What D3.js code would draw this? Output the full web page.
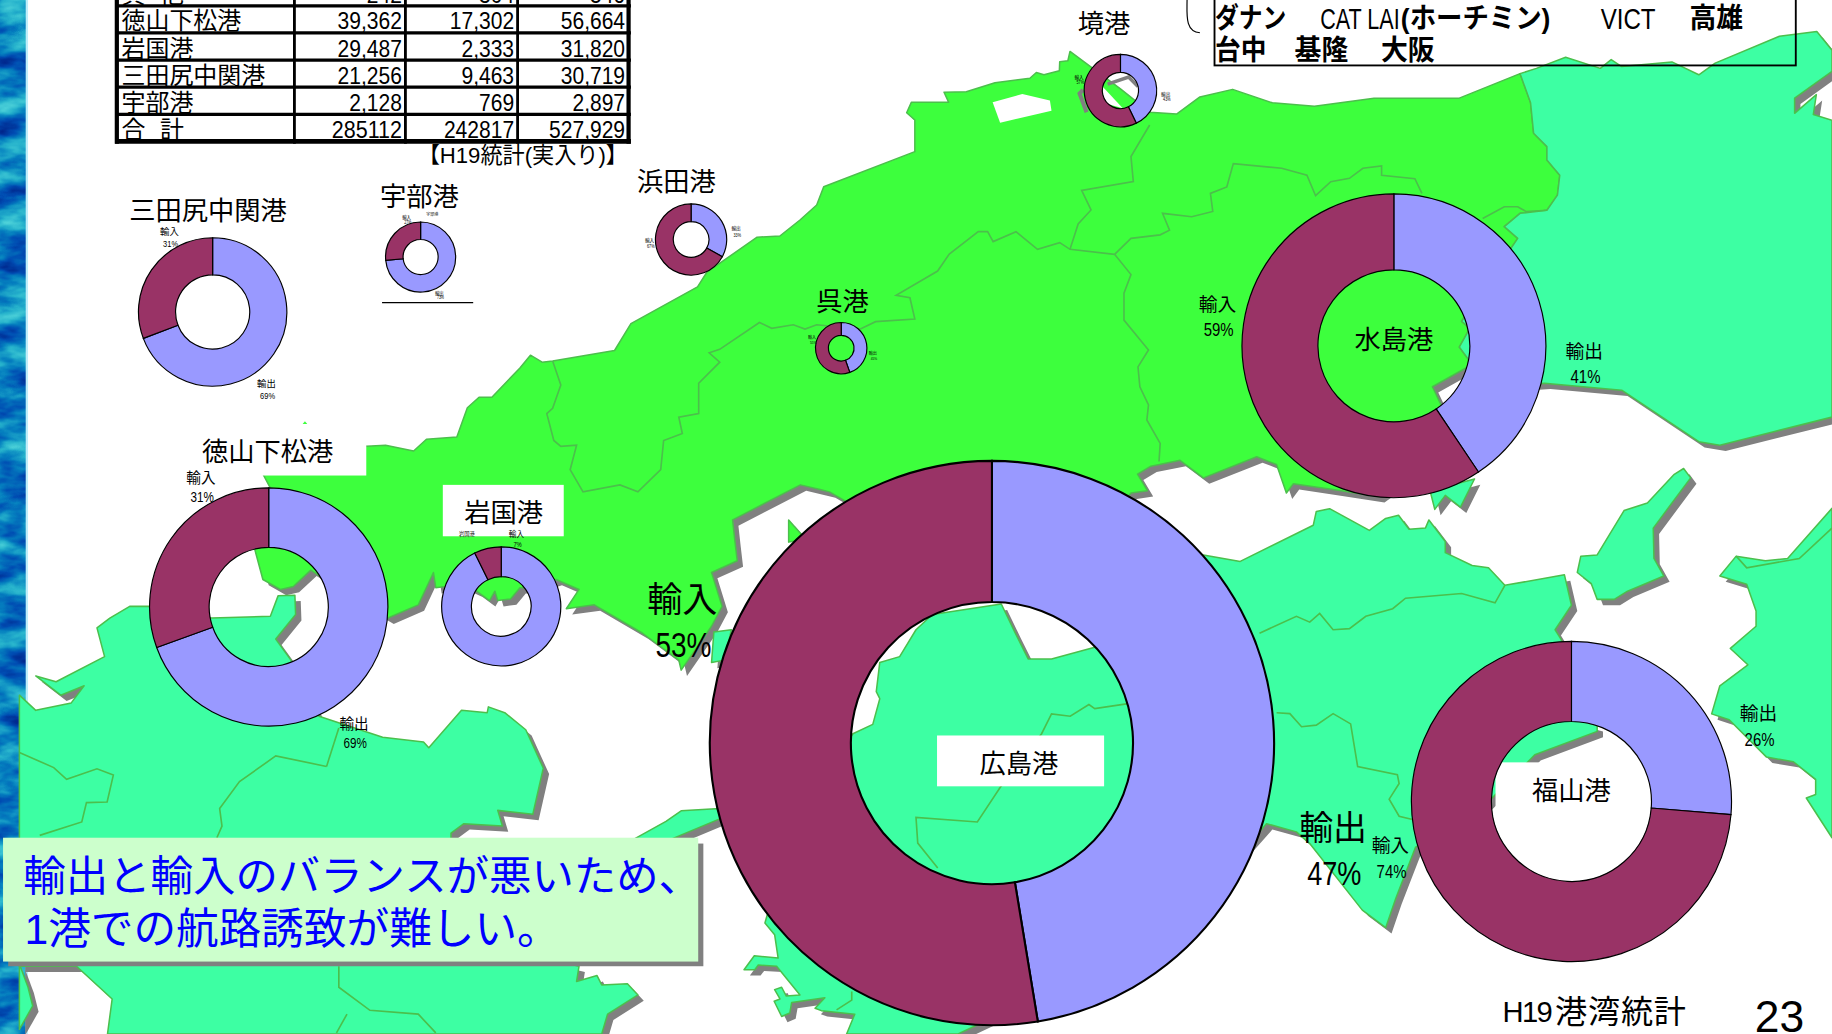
<!DOCTYPE html>
<html><head><meta charset="utf-8">
<script src="https://cdn.jsdelivr.net/npm/d3@7/dist/d3.min.js"></script>
<style>html,body{margin:0;padding:0;background:#fff;overflow:hidden}svg{display:block}
text{font-family:"Liberation Sans","Noto Sans CJK JP",sans-serif;fill:#000}</style>
</head><body><svg id="c"></svg>
<script>
// ---------- data ----------
const ports       = ["広島港","水島港","福山港","徳山下松港","岩国港","三田尻中関港","宇部港","浜田港","呉港","境港"];
const exportShare = [47.4,40.6,26.3,69.47,92.67,69.2,73.46,33,44.6,42.8];
const importShare = [52.6,59.4,73.7,30.53,7.33,30.8,26.54,67,55.4,57.2];
const seriesNames = ["輸出","輸入"];

const tableRows = ["其　他","徳山下松港","岩国港","三田尻中関港","宇部港","合　計"];
const tableCol1 = ["242","39,362","29,487","21,256","2,128","285112"];
const tableCol2 = ["304","17,302","2,333","9,463","769","242817"];
const tableCol3 = ["546","56,664","31,820","30,719","2,897","527,929"];

// ---------- layout ----------
const W=1568,H=885;
const svg=d3.select("#c").attr("width",1832).attr("height",1034).attr("viewBox",`0 0 ${W} ${H}`).attr("preserveAspectRatio","none");
const defs=svg.append("defs");
const f=defs.append("filter").attr("id","water").attr("x",0).attr("y",0).attr("width","100%").attr("height","100%").attr("color-interpolation-filters","sRGB");
f.append("feTurbulence").attr("type","fractalNoise").attr("baseFrequency","0.022 0.05").attr("numOctaves",4).attr("seed",11);
f.append("feColorMatrix").attr("type","matrix").attr("values","1 0 0 0 0 1 0 0 0 0 1 0 0 0 0 0 0 0 0 1");
const ct=f.append("feComponentTransfer");
ct.append("feFuncR").attr("type","table").attr("tableValues","0 0 0 0.02 0.15 0.3 0.5");
ct.append("feFuncG").attr("type","table").attr("tableValues","0.1 0.15 0.3 0.5 0.7 0.82 0.9");
ct.append("feFuncB").attr("type","table").attr("tableValues","0.45 0.55 0.7 0.75 0.8 0.85 0.9");

const BRIGHT="#3DFF3D", MINT="#3DFFA3", EDGE="#4CBF4C", SHADOW="#808080";
const lineGen=d3.line();
const closed=p=>lineGen(p)+"Z";

// ocean strip at the left
svg.append("rect").attr("x",0).attr("y",0).attr("width",22).attr("height",H).attr("filter","url(#water)");
svg.append("rect").attr("x",22).attr("y",0).attr("width",2).attr("height",H).attr("fill","#bfeefa");

// ---------- map shapes (background art) ----------
const brightLand=[[[313.5,382],[330,381],[354,386],[365,376],[391,374],[400,349],[410,340],[421,340],[445,315],[454,304],[464,310],[473,309],[526,300],[540,277],[597,245.5],[605,233],[648,203],[667.5,202],[684.7,188.3],[699,175.5],[705,159.8],[783,129.8],[783,102.7],[776,96.5],[780,87.6],[812,87.6],[808,79],[827,78.5],[851.6,70.8],[881.5,67],[887,62],[893.5,64],[906.7,60.5],[907,52.8],[914,52],[915.8,44],[959,76],[984,96],[1007,97.6],[1027,83],[1055,76.5],[1089,88],[1125,91],[1176,84],[1249,84],[1301,63],[1310,88],[1312.6,114],[1324,125.5],[1324,137],[1335,150],[1333,167],[1324,180],[1301,182.6],[1287.5,194],[1299,204],[1251,275],[1258,281],[1249,297],[1260,312],[1226,331],[1235,350],[1215,400],[1180,425],[1141,419],[1107,414],[1101,422],[1092.6,397.6],[1075.6,391],[1030,409],[1010,394],[985,399],[973.6,405.8],[982,420],[968,422],[900,500],[760,450],[710,421],[702,419],[685,415],[627,445],[629,463],[631,480],[609,490],[618,519],[609,536],[583,573.6],[581,565],[550,542],[508.7,517.7],[484.7,521],[495.6,504.5],[476,496],[455,503],[445,503],[437,512.7],[426,514],[423.6,506],[419,514],[408,506],[395,500],[373,503],[371,490],[358,517.7],[332,529],[300,510],[266,488],[251,502],[240,504.5],[225,496],[218,470],[231,417],[226,407.5],[220,395],[280,368]],
 [[675,445],[690,462],[675,464]]];
const mintLand=[
 // east
 [[1301,63],[1315,58.5],[1340,49],[1369.7,58.5],[1379,51],[1388,57],[1431,53],[1454,64],[1468,54],[1523,31],[1555,27],[1568,43],[1568,61],[1536,84],[1536,97],[1554.6,81],[1552,98],[1568,103],[1568,357],[1518,369.5],[1472,381],[1454,378],[1388,334],[1322,328],[1290,330],[1260,312],[1249,297],[1258,281],[1251,275],[1299,204],[1287.5,194],[1301,182.6],[1324,180],[1333,167],[1335,150],[1324,137],[1324,125.5],[1312.6,114],[1310,88]],
 // centre south
 [[857,517],[869,542],[880,564],[900,564],[937,554],[1000,520],[1030,475],[1061.5,480.5],[1124,449.6],[1126.6,437.7],[1138,435.4],[1172,454],[1186,443.7],[1197,441],[1206,453],[1220,452],[1223,445],[1237,463.4],[1237,473],[1260,484],[1274,486],[1288,501],[1339,492],[1345,518],[1331,539],[1336,547],[1356,600],[1356,618],[1367,621],[1367,626],[1313.6,646],[1300,660],[1270,690],[1211.6,725],[1194.6,769],[1186,794],[1166,779],[1121,722],[1109.6,712],[1084,705],[1000,800],[820,885],[724.6,885],[731.6,868],[703,865],[697.6,863],[706,854],[677.6,858],[676,867],[669,870],[662.6,857],[667.6,855],[663,847],[669,845],[673,852.5],[684.7,851.6],[664.7,827],[649,826],[646,830],[636.8,830],[645.6,818],[666,820],[663,800],[654.7,790],[680,700],[730,628],[747,620],[753,598],[750,592],[753,567],[770,562],[784,539],[798,526]],
 // west
 [[16.6,595],[30.6,608],[61,601.6],[72,587],[52,595],[30.6,578.5],[48,583.5],[89.5,562],[83,537.4],[94,529],[111,519],[131,519],[181,529],[231.4,527.5],[238,510],[252.4,509.4],[253,526],[236,547],[249,565],[273,613],[327.5,631],[362.5,635],[367,640],[395,608],[417,610],[418,605],[432,610],[450,624.6],[465,657.5],[456,697],[426,693.6],[430,707],[397,705],[386,713],[386,800],[495.6,827],[493.5,840],[511,835],[515,843],[537,842],[546,851.6],[520,868],[515,885],[92,885],[96,855],[65.5,827],[16.6,827]],
 [[16.6,825],[24,845],[28,861],[16.6,881]],
 // far east
 [[1568,435],[1530,478],[1511,480],[1486,476],[1472,493],[1495,500],[1503,523],[1503,536],[1481,555],[1496,569],[1472,587],[1465,611],[1480,616],[1512,648],[1535,652],[1554,667],[1554,680],[1546,683],[1568,717]],
 // islands
 [[1441,401],[1447,409],[1415,452],[1415.6,478],[1424,493],[1393,506],[1381.6,513],[1367,513],[1362,499.6],[1350,490],[1353,476],[1367,475],[1390,437],[1410,430.5],[1433,406]],
 [[543,718],[570,703],[583,694],[616,692],[618,700],[575,718]],
 [[611,541],[626,539],[620,565],[609,567]],
 [[1224,420],[1228,436],[1237,424],[1250,434],[1262,410]]
];
const borders=[
 [[473,309],[480,329.5],[473,349.5],[468,354],[474,377],[480,382],[493.5,381],[488,402],[499,421],[530.6,415],[546,421],[565.5,402],[568,377],[584,371],[581,357],[598,354],[598,328],[616,310],[607,302],[616,299],[650,276],[660.5,281],[679,278],[689,281.6],[699,278],[736,281.7],[749.4,275.3],[783,273],[778.8,254.8],[767,252.8],[802.5,232],[812.5,217.4],[837.3,198.3],[845.3,198.3],[850,206.8],[869.6,198.3],[888,213.4],[907,207.7],[915.8,213.4],[954,217.7]],
 [[954,217.7],[968,235],[962,251],[962,274],[983,299.6],[974,314],[975.6,331],[983,346.6],[981.6,359.5],[993,379.5],[992,395]],
 [[915.8,213.4],[922.8,191.7],[933.8,179.7],[925.8,163],[970,155.5],[968,134],[984,107]],
 [[954,217.7],[968,204],[993,201],[1001,197],[995,182.6],[1020,185.5],[1038,181],[1036,165.5],[1050,160],[1055.6,140],[1097,144],[1118.6,150],[1126,167.5],[1139,155.5],[1155,152.6],[1166.5,144],[1182.5,142],[1182.5,150],[1211,153],[1217,165.5]],
 [[1269,187],[1287.5,177],[1299,177],[1306,181],[1324,180]],
 [[1078,542],[1109.6,527.5],[1121,532.5],[1129.5,525],[1141,539],[1155,538],[1169,527.5],[1192,521],[1203,512],[1251,508],[1279.6,516],[1288,501]],
 [[1092.6,610],[1104,610.8],[1114,622],[1126.6,620.6],[1141,610.8],[1156,619.6],[1162,656],[1196,663],[1197.5,670.6],[1189,684],[1197.5,698.6],[1211.6,702]],
 [[967,602],[937,606.5],[932,603],[916,613],[900,611],[891.5,628],[856,674],[836.5,703.5],[784,699.6],[785.5,721.6],[802.6,743]],
 [[729,848.7],[729,856],[716,864.4]],
 [[16.6,644],[46,657],[57,667],[83,658],[97,663.4],[91.7,686.4],[74,687],[70,703.5],[34,715]],
 [[279.5,656],[290,623]],
 [[279.5,656],[236,647],[205,669],[188,692],[190,707],[185.6,717]],
 [[290,827],[290,845],[316.6,864.7],[358,868],[373,884]],
 [[297,868],[288,884]],
 [[1486,476],[1495,486],[1540,478],[1568,452]]
];

const map=svg.append("g");
const land=[...brightLand.map(p=>({p,c:BRIGHT})),...mintLand.map(p=>({p,c:MINT}))];
map.selectAll("path.sh").data(land).join("path").attr("class","sh").attr("d",d=>closed(d.p))
   .attr("fill",SHADOW).attr("transform","translate(5,5)");
map.selectAll("path.ld").data(land).join("path").attr("class","ld").attr("d",d=>closed(d.p))
   .attr("fill",d=>d.c).attr("stroke",EDGE).attr("stroke-width",1.3).attr("stroke-linejoin","round");
map.selectAll("path.bd").data(borders).join("path").attr("class","bd").attr("d",lineGen)
   .attr("fill","none").attr("stroke",EDGE).attr("stroke-width",1.4);
// lake and small water bodies
const water=[[[849.6,87.6],[875,80.5],[898.6,86],[900,94.7],[856,105]],[[944,74.5],[961,92.7],[944,88]],[[963.7,72.8],[974,72.8],[974,85.6]]];
map.selectAll("path.wt").data(water).join("path").attr("class","wt").attr("d",closed).attr("fill","#fff");
map.append("path").attr("d",lineGen([[927,77],[924,80],[930,96]])).attr("fill","none").attr("stroke",SHADOW).attr("stroke-width",3.5);
map.append("path").attr("d",lineGen([[948,72],[966,66],[974,74]])).attr("fill","none").attr("stroke",SHADOW).attr("stroke-width",3);

// white label patches that sit over the map
[[170,365,143.5,42],[379,415,103.5,44],[1280,652.5,130,90]].forEach(([x,y,w,h])=>
  svg.append("rect").attr("x",x).attr("y",y).attr("width",w).attr("height",h).attr("fill","#fff"));
svg.append("path").attr("d","M259,363L261,360.5L263,363Z").attr("fill",BRIGHT);

// ---------- doughnuts ----------
const donutLayout=[
 {cx:849,cy:636,r:241.5,sw:1.8},{cx:1193,cy:296,r:130,sw:1},{cx:1345,cy:686,r:137,sw:1},
 {cx:230,cy:519.5,r:102,sw:1},{cx:429,cy:519,r:51,sw:1},{cx:182,cy:267,r:63.5,sw:1},
 {cx:360,cy:220,r:30,sw:1},{cx:591.5,cy:205,r:30.5,sw:1},{cx:720,cy:298,r:22,sw:1},{cx:959,cy:77.5,r:31,sw:1}];
const pie=d3.pie().sort(null).value(d=>d);
const COLORS=d3.scaleOrdinal().domain(seriesNames).range(["#9999FF","#993366"]);
ports.forEach((name,i)=>{
  const l=donutLayout[i];
  const arc=d3.arc().innerRadius(l.r/2).outerRadius(l.r);
  svg.append("g").attr("transform",`translate(${l.cx},${l.cy})`)
   .selectAll("path").data(pie([exportShare[i],importShare[i]])).join("path")
   .attr("d",arc).attr("fill",(d,j)=>COLORS(seriesNames[j])).attr("stroke","#000").attr("stroke-width",l.sw);
});

// ---------- labels ----------
function label(t,x,y,size,o={}){
  const s=svg.append("text").attr("x",x).attr("y",y).attr("font-size",size)
   .attr("text-anchor",o.anchor||"middle").attr("dominant-baseline",o.base||"central").text(t);
  if(o.len) s.attr("textLength",o.len).attr("lengthAdjust",o.adj||"spacingAndGlyphs");
  if(o.fill) s.style("fill",o.fill);
  if(o.bold) s.attr("font-weight","bold");
  return s;
}
// white plate behind 広島港
svg.append("rect").attr("x",802).attr("y",629.5).attr("width",143).attr("height",43.5).attr("fill","#fff");
// share labels: [port index, series, x, y (name), y (percent), font]
const shareLabels=[
 [0,1,584,513,552,30],[0,0,1141,709,747,29],
 [1,1,1042,261,282,16],[1,0,1356,301,322,16],
 [2,1,1190,724,746,16],[2,0,1505,611,633,16],
 [3,1,172,409,425,12.5],[3,0,303,620,636,12.5],
 [4,1,442,457.5,465.7,6.5],
 [5,1,145,199,209,8],[5,0,228,329,339,8],
 [6,1,348,186,190.6,3.8],[6,0,376,251,255,3.8],
 [7,1,556,206,211,4],[7,0,630,196,201.5,4],
 [8,1,695,289,293,3.5],[8,0,747,302.7,306.5,3.5],
 [9,1,923.6,66,71,4],[9,0,997.7,80.7,85.6,4]];
shareLabels.forEach(([i,s,x,y1,y2,fs])=>{
  label(seriesNames[s],x,y1,fs);
  const v=Math.round((s==0?exportShare:importShare)[i])+"%";
  label(v,x+1,y2,fs,{len:fs*(v.length==2?1.1:1.6)});
});
label("岩国港",399.6,457,4.5);
label("宇部港",370,184,3.5);

// port names
const nameLayout=[[872,654],[1193,291],[1345,677],[229,387],[431,439],[178,180.5],[359,168.5],[579,155.5],[721,258.5],[945,20.5]];
ports.forEach((p,i)=>label(p,nameLayout[i][0],nameLayout[i][1],22.5));

// Ube underline
svg.append("line").attr("x1",327).attr("x2",405).attr("y1",259).attr("y2",259).attr("stroke","#000").attr("stroke-width",1);

// ---------- table ----------
const rowLine=d3.scaleLinear().domain([0,5]).range([5,121]);
const tbl=svg.append("g");
const vCols=[100,252,347,443,538];
tbl.selectAll("line.v").data(vCols).join("line").attr("x1",d=>d).attr("x2",d=>d).attr("y1",-5).attr("y2",123)
  .attr("stroke","#000").attr("stroke-width",(d,i)=>(i==0||i==4)?3.6:2.4);
tbl.selectAll("line.h").data(d3.range(6)).join("line").attr("x1",98.5).attr("x2",540).attr("y1",d=>rowLine(d)).attr("y2",d=>rowLine(d))
  .attr("stroke","#000").attr("stroke-width",d=>d==5?4:2.8);
const digitWidth=s=>18*(s.replace(/,/g,"").length*0.556+(s.split(",").length-1)*0.278);
tableRows.forEach((r,i)=>{
  const b=i==0?2.3:rowLine(i)-3;
  const sp=r.includes("　");
  label(r,104,b,20.5,{anchor:"start",base:"auto",len:sp?53.5:null,adj:"spacing"});
  [tableCol1,tableCol2,tableCol3].forEach((c,j)=>label(c[i],vCols[j+2]-3,b,20,{anchor:"end",base:"auto",len:digitWidth(c[i])}));
});
label("【H19統計(実入り)】",447.5,133.5,19,{len:180});

// ---------- route box ----------
svg.append("rect").attr("x",1039.5).attr("y",-5).attr("width",497.5).attr("height",61).attr("fill","none").attr("stroke","#000").attr("stroke-width",1.6);
svg.append("path").attr("d","M1016,0C1016,12 1014,27 1027,28").attr("fill","none").attr("stroke","#000").attr("stroke-width",1);
[["ダナン",1040,16,61,true,24],["CAT LAI",1130,16,68,false,25],["(ホーチミン)",1199,16,128,true,24],["VICT",1370,16,47,false,26],["高雄",1446,16,46,true,24],
 ["台中",1040,43,44,true,24],["基隆",1108,43,46,true,24],["大阪",1182,43,46,true,24]].forEach(([t,x,y,len,b,fs])=>
  label(t,x,y,fs,{anchor:"start",len,bold:b}));

// ---------- message box ----------
svg.append("rect").attr("x",7).attr("y",722).attr("width",595).attr("height",105).attr("fill",SHADOW);
svg.append("rect").attr("x",2.6).attr("y",717).attr("width",595).attr("height",106).attr("fill","#CCFFCC");
label("輸出と輸入のバランスが悪いため、",20,750,36.3,{anchor:"start",fill:"#0000FF"});
label("1港での航路誘致が難しい。",21,795,36.5,{anchor:"start",fill:"#0000FF"});

// ---------- footer ----------
label("H19",1286,866,25,{anchor:"start",len:43,adj:"spacing"});
label("港湾統計",1331,866,27.5,{anchor:"start",len:112,adj:"spacing"});
label("23",1523,870,38);
</script></body></html>
